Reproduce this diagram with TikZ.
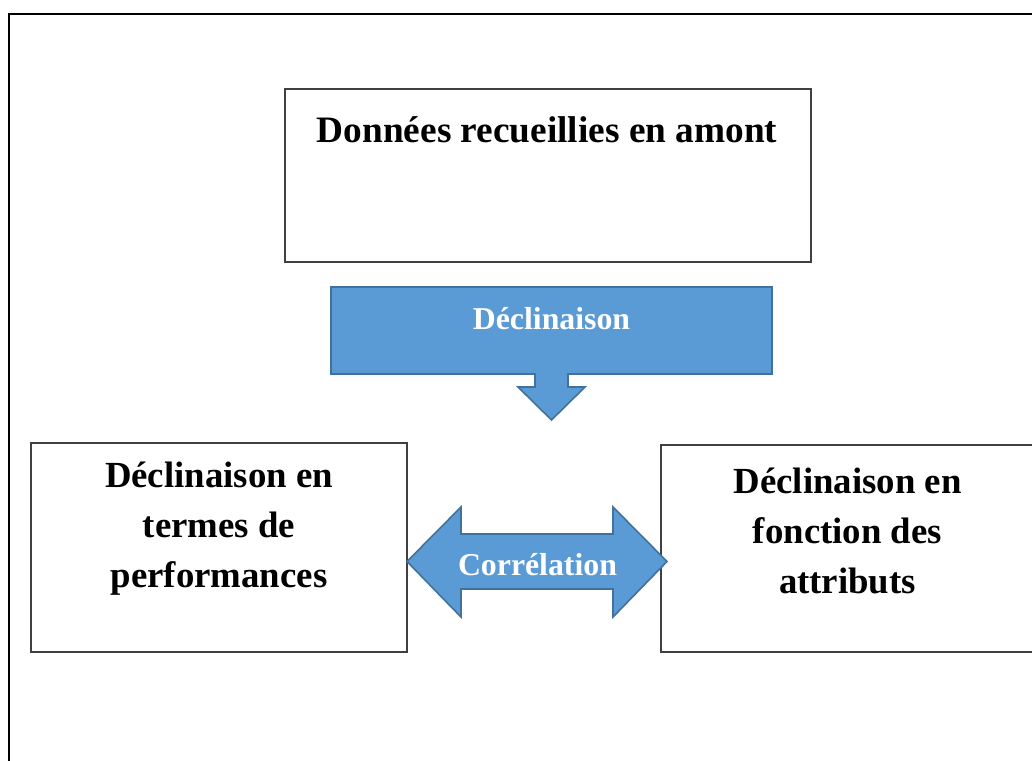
\documentclass[tikz,border=0pt]{standalone}
\usepackage{fontspec}
\setmainfont{Liberation Serif}
\newcommand{\bigtxt}{\fontsize{36.8}{50}\selectfont\bfseries}
\newcommand{\toptxt}{\fontsize{37.3}{50}\selectfont\bfseries}
\newcommand{\arrtxt}{\fontsize{31.8}{40}\selectfont\bfseries}
\begin{document}
\begin{tikzpicture}[x=1pt,y=-1pt,
  box/.style={draw=black!75,line width=1.1pt,fill=white},
  bluearrow/.style={draw=arrowedge,fill=arrowfill,line width=1.6pt,line join=miter},
  bigtext/.style={font=\bigtxt,inner sep=0pt,align=center},
  arrowtext/.style={font=\arrtxt,text=white,inner sep=0pt}]
\definecolor{arrowfill}{HTML}{5B9BD5}
\definecolor{arrowedge}{HTML}{41719C}
\useasboundingbox (0,0) rectangle (1032,760);
% outer frame (clipped at right and bottom)
\draw[line width=2pt,black] (9,14) rectangle (1045,775);
% top box
\draw[box] (285,89) rectangle (811,262);
\node[bigtext,font=\toptxt,anchor=base] (top) at (547,142) {Données recueillies en amont};
% down arrow callout
\draw[bluearrow] (331,287) -- (772,287) -- (772,374) -- (568,374) -- (568,387)
  -- (585,387) -- (551.5,420) -- (518,387) -- (535,387) -- (535,374)
  -- (331,374) -- cycle;
\node[arrowtext,anchor=base] (decl) at (551.5,329) {Déclinaison};
% left box
\draw[box] (31,443) rectangle (407,652);
\node[bigtext] (left) at (219,527) {\strut Déclinaison en\\\strut termes de\\\strut performances};
% right box
\draw[box] (661,445) rectangle (1034,652);
\node[bigtext] (right) at (847.5,533) {\strut Déclinaison en\\\strut fonction des\\\strut attributs};
% double arrow
\draw[bluearrow] (407,561.5) -- (461,507) -- (461,534) -- (613,534) -- (613,507)
  -- (667,561.5) -- (613,617) -- (613,589) -- (461,589) -- (461,617) -- cycle;
\node[arrowtext,anchor=base] (corr) at (537.5,575) {Corrélation};
\end{tikzpicture}
\end{document}
